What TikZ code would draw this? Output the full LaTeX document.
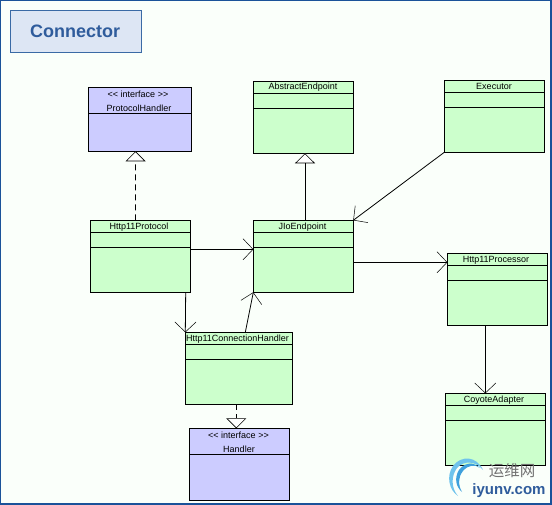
\documentclass[tikz,border=0pt]{standalone}
\usepackage{fontspec}
\setmainfont{Liberation Sans}
\newfontfamily\cjkfont{Noto Sans CJK SC}
\usetikzlibrary{arrows.meta}
\definecolor{classgreen}{HTML}{CCFFCC}
\definecolor{ifacepurple}{HTML}{CCCCFF}
\definecolor{framecol}{HTML}{1A5299}
\definecolor{titlefill}{HTML}{DDE6F4}
\definecolor{titleedge}{HTML}{3A6AA5}
\definecolor{titletext}{HTML}{2F5C9C}
\definecolor{swoosh}{HTML}{6FC3EC}
\definecolor{swooshd}{HTML}{3FA0DC}
\tikzset{
  umlbox/.style={draw=black,line width=0.8pt,inner sep=0pt,outer sep=0pt,anchor=north west},
  umltext/.style={font=\fontsize{9}{10}\selectfont,inner sep=0pt,text=black},
  assoc/.style={line width=0.8pt,-{Straight Barb[length=10pt,width=21pt,line width=0.5pt,round]}},
  real/.style={line width=0.8pt,-{Triangle[open,fill=white,length=10pt,width=20pt,line width=0.6pt]}},
  dashline/.style={dash pattern=on 6pt off 4pt}
}
% name, x1, y1, w, h, line1 y, line2 y, fill
\newcommand{\umlclass}[8]{%
  \node[umlbox,fill=#8,minimum width=#4pt,minimum height=#5pt] (#1) at (#2,#3) {};
  \draw[line width=0.8pt] (#1.west |- 0,#6) -- (#1.east |- 0,#6);
  \if\relax#7\relax\else\draw[line width=0.8pt] (#1.west |- 0,#7) -- (#1.east |- 0,#7);\fi
}
\begin{document}
\begin{tikzpicture}[x=1pt,y=-1pt]
\useasboundingbox (0,0) rectangle (552,505);
\fill[white!98!green] (0,0) rectangle (552,505);
\draw[framecol,line width=1.5pt] (0.7,0.7) rectangle (551,504);

\node[draw=titleedge,fill=titlefill,line width=0.8pt,minimum width=131pt,minimum height=42pt,inner sep=0pt,anchor=north west,
  font=\bfseries\fontsize{18}{20}\selectfont,text=titletext] (title) at (10.3,10.3) {\kern-2pt Connector};

\umlclass{PH}{88.3}{87.3}{103}{64}{113.3}{}{ifacepurple}
\umlclass{AE}{253.3}{81.3}{100}{72}{93.3}{108.3}{classgreen}
\umlclass{EX}{444.3}{80.3}{100}{72}{92.3}{107.3}{classgreen}
\umlclass{HP}{90.3}{220.3}{100}{72}{232.3}{247.3}{classgreen}
\umlclass{JE}{253.3}{220.3}{100}{72}{232.3}{247.3}{classgreen}
\umlclass{PR}{447.3}{253.3}{100}{72}{265.3}{280.3}{classgreen}
\umlclass{CA}{445.3}{393.3}{100}{72}{405.3}{420.3}{classgreen}
\umlclass{HC}{185.3}{332.3}{107}{72}{344.3}{359.3}{classgreen}
\umlclass{HA}{189.3}{428.3}{100}{72}{454.3}{}{ifacepurple}

\node[umltext] (PHs) at (138,94) {<{}< interface >{}>};
\node[umltext] (PHn) at (139,108) {ProtocolHandler};
\node[umltext] (AEn) at (303,87.5) {AbstractEndpoint};
\node[umltext] (EXn) at (494,86.8) {Executor};
\node[umltext] (HPn) at (139,226.8) {Http11Protocol};
\node[umltext] (JEn) at (302.5,226.8) {JIoEndpoint};
\node[umltext] (PRn) at (496,260) {Http11Processor};
\node[umltext] (CAn) at (494,399.8) {CoyoteAdapter};
\node[umltext] (HCn) at (237.5,338.8) {Http11ConnectionHandler};
\node[umltext] (HAs) at (238.5,435) {<{}< interface >{}>};
\node[umltext] (HAn) at (239,449) {Handler};

% connectors
\draw[real,dashline] ([xshift=-4.8pt]HP.north) -- ([xshift=-4.2pt]PH.south);
\draw[real] ([xshift=1.7pt]JE.north) -- ([xshift=1.7pt]AE.south);
\draw[assoc] (EX.south west) -- (JE.north east);
\draw[assoc] ([yshift=7pt]HP.east) -- ([yshift=7pt]JE.west);
\draw[assoc] ([xshift=-4.6pt]HP.south east) -- (HC.north west);
\draw[assoc] ([xshift=6.5pt]HC.north) -- (JE.south west);
\draw[assoc] ([yshift=-6pt]JE.east) -- ([yshift=27pt]PR.west);
\draw[assoc] ([xshift=-12pt]PR.south) -- ([xshift=-10pt]CA.north);
\draw[real,dashline] ([xshift=-2.5pt]HC.south) -- ([xshift=-3pt]HA.north);

% watermark
\fill[swoosh] (483,470) .. controls (477,456) and (461,455) .. (453,466)
   .. controls (446,476) and (449,490) .. (458,496)
   .. controls (451,488) and (451,476) .. (457,468)
   .. controls (464,460) and (476,461) .. (483,470) -- cycle;
\fill[swooshd] (480,468) .. controls (473,461) and (464,463) .. (459,470)
   .. controls (454,478) and (456,487) .. (462,492)
   .. controls (458,485) and (458,477) .. (463,471)
   .. controls (468,465) and (475,464) .. (480,468) -- cycle;
\node[inner sep=0pt,text=black!55,font=\cjkfont\fontsize{15.5}{16}\selectfont] (wm1) at (512,471) {运维网};
\node[inner sep=0pt,text=titletext,font=\bfseries\fontsize{15}{16}\selectfont] (wm2) at (509,490.5) {iyunv.com};
\end{tikzpicture}
\end{document}
